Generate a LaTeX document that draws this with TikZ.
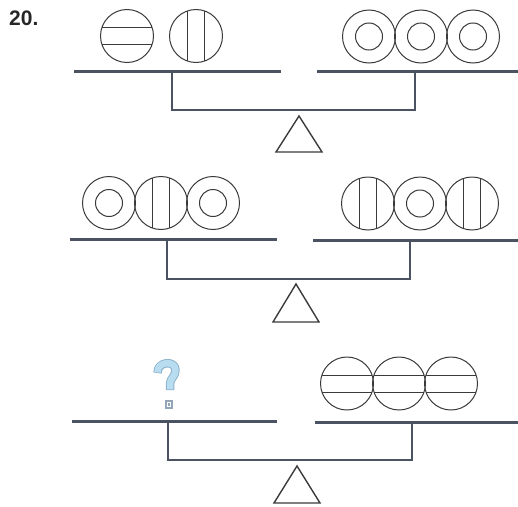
\documentclass[tikz,border=0pt]{standalone}
\usepackage{fontspec}
\setmainfont{Liberation Sans}
\begin{document}
\begin{tikzpicture}[x=1pt,y=-1pt]
\definecolor{barcol}{HTML}{4B5262}
\definecolor{inkcol}{HTML}{3A3A3A}
\definecolor{qfill}{HTML}{B9DDF0}
\definecolor{qedge}{HTML}{8DB3CC}
\definecolor{sqcol}{HTML}{93A6B8}
\tikzset{
  pan/.style={draw=barcol, line width=3pt},
  beam/.style={draw=barcol, line width=2.6pt, line join=miter},
  fulcrum/.style={draw=inkcol, line width=1.4pt, line join=miter},
  ballline/.style={draw=inkcol, line width=1pt},
  hball/.pic={\draw[ballline] (0,0) circle (26.5);
    \draw[ballline] (-25.1,-8.5) -- (25.1,-8.5);
    \draw[ballline] (-25.1,8.5) -- (25.1,8.5);},
  vball/.pic={\draw[ballline] (0,0) circle (26.5);
    \draw[ballline] (-8.5,-25.1) -- (-8.5,25.1);
    \draw[ballline] (8.5,-25.1) -- (8.5,25.1);},
  rball/.pic={\draw[ballline] (0,0) circle (26.5);
    \draw[ballline] (0,0) circle (13.5);},
}
\useasboundingbox (0,0) rectangle (518,506);
\node[anchor=north west, inner sep=0pt, font=\fontsize{21}{21}\selectfont\bfseries, text=black!85] (num) at (9,11) {20.};

% ---------- top scale ----------
\coordinate (aL1) at (74,71);  \coordinate (aL2) at (281,71);
\coordinate (aR1) at (317,71); \coordinate (aR2) at (518,71);
\coordinate (aP1) at (172,71); \coordinate (aP2) at (415,71);
\coordinate (aB1) at (172,110); \coordinate (aB2) at (415,110);
\draw[pan] (aL1) -- (aL2);
\draw[pan] (aR1) -- (aR2);
\draw[beam] (aP1) -- (aB1) -- (aB2) -- (aP2);
\coordinate (aT) at (299,116); \coordinate (aTl) at (276,152); \coordinate (aTr) at (322,152);
\draw[fulcrum] (aT) -- (aTl) -- (aTr) -- cycle;
\pic at (127,36) {hball};
\pic at (196,36) {vball};
\pic at (369,36.5) {rball};
\pic at (421,36.5) {rball};
\pic at (473,36.5) {rball};

% ---------- middle scale ----------
\coordinate (bL1) at (70,239);  \coordinate (bL2) at (277,239);
\coordinate (bR1) at (313,240); \coordinate (bR2) at (518,240);
\coordinate (bP1) at (167,239); \coordinate (bP2) at (410,240);
\coordinate (bB1) at (167,279); \coordinate (bB2) at (410,279);
\draw[pan] (bL1) -- (bL2);
\draw[pan] (bR1) -- (bR2);
\draw[beam] (bP1) -- (bB1) -- (bB2) -- (bP2);
\coordinate (bT) at (296,284); \coordinate (bTl) at (273,322); \coordinate (bTr) at (319,322);
\draw[fulcrum] (bT) -- (bTl) -- (bTr) -- cycle;
\pic at (109,203) {rball};
\pic at (161,203) {vball};
\pic at (213,203) {rball};
\pic at (368,203.5) {vball};
\pic at (420,203.5) {rball};
\pic at (472,203.5) {vball};

% ---------- bottom scale ----------
\coordinate (cL1) at (72,421);  \coordinate (cL2) at (277,421);
\coordinate (cR1) at (315,422); \coordinate (cR2) at (518,422);
\coordinate (cP1) at (168,421); \coordinate (cP2) at (412,422);
\coordinate (cB1) at (168,460); \coordinate (cB2) at (412,460);
\draw[pan] (cL1) -- (cL2);
\draw[pan] (cR1) -- (cR2);
\draw[beam] (cP1) -- (cB1) -- (cB2) -- (cP2);
\coordinate (cT) at (297,466); \coordinate (cTl) at (274,503); \coordinate (cTr) at (320,503);
\draw[fulcrum] (cT) -- (cTl) -- (cTr) -- cycle;
\pic at (347,383.5) {hball};
\pic at (399,383.5) {hball};
\pic at (451,383.5) {hball};

% question mark
\draw[qedge, line width=8.5pt, line cap=butt, line join=round]
  (157.5,373) .. controls (157,361) and (175.5,360) .. (175.5,370)
  .. controls (175.5,377) and (170,378) .. (170,384) -- (170,390);
\draw[qfill, line width=6.5pt, line cap=butt, line join=round]
  (157.5,372.3) .. controls (157,361) and (175.5,360) .. (175.5,370)
  .. controls (175.5,377) and (170,378) .. (170,384) -- (170,389.3);
\node[draw=sqcol, fill=sqcol, minimum width=7pt, minimum height=8pt, inner sep=0pt] (qdot) at (168.5,404) {};
\draw[white, line width=0.6pt] (167,401.8) rectangle (170,406.2);
\end{tikzpicture}
\end{document}
